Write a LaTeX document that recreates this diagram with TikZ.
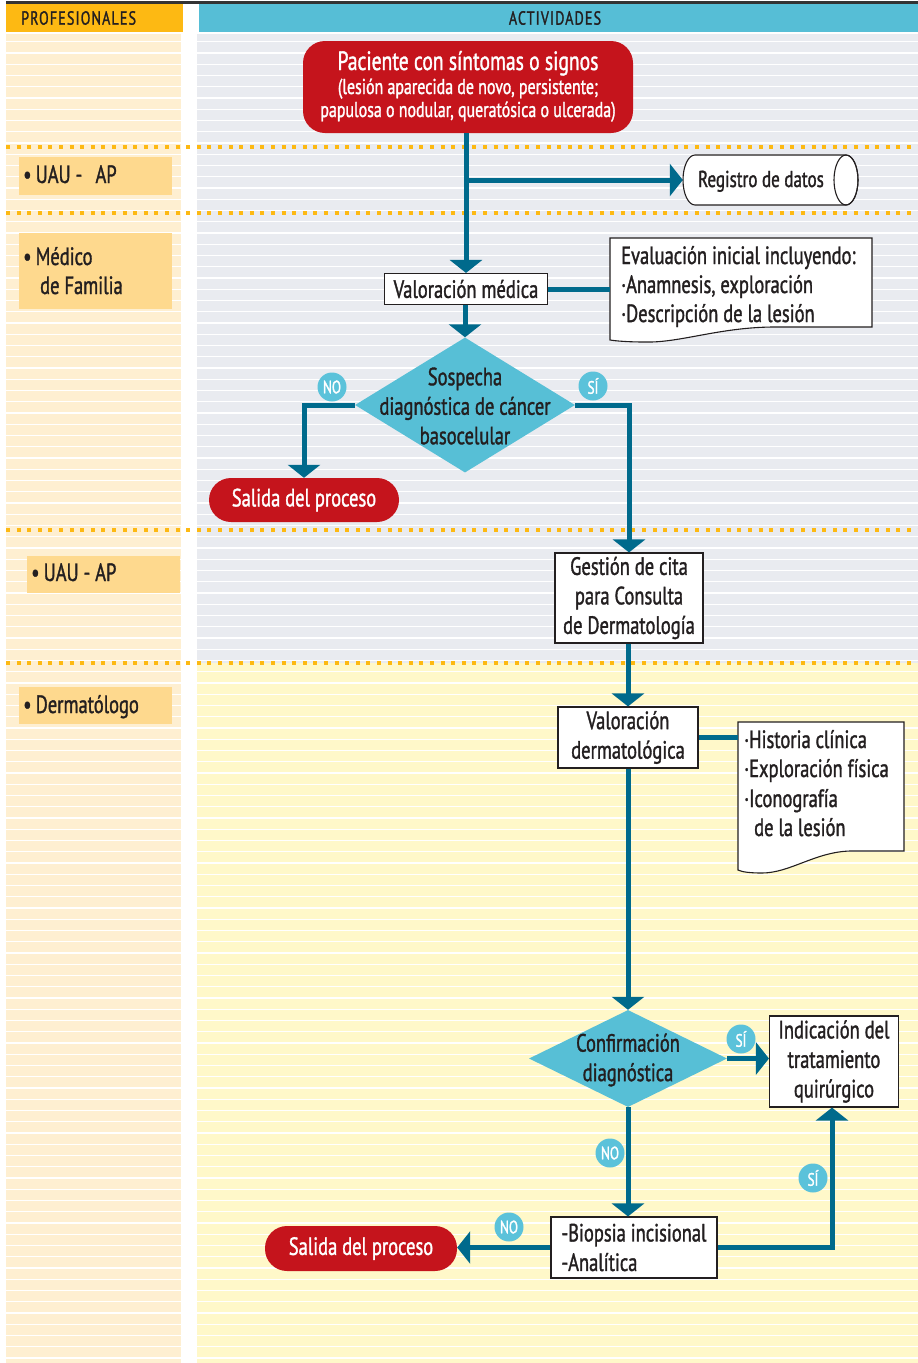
\documentclass[tikz,border=0pt]{standalone}
\usepackage{fontspec}
\setmainfont{PT Sans}[FakeStretch=0.74,FakeBold=1.3]
\usetikzlibrary{arrows.meta,shapes.geometric,calc}
\definecolor{txt}{HTML}{231F20}
\definecolor{linec}{HTML}{006A8C}
\definecolor{diac}{HTML}{57BFD6}
\definecolor{redc}{HTML}{C5141C}
\definecolor{orangeh}{HTML}{FDB913}
\definecolor{tealh}{HTML}{56BED6}
\definecolor{leftbg}{HTML}{FEEFD1}
\definecolor{labbg}{HTML}{FED98E}
\definecolor{graybg}{HTML}{E9EBF0}
\definecolor{yelbg}{HTML}{FFF8C9}
\definecolor{tagc}{HTML}{5BC2DA}
\begin{document}
\begin{tikzpicture}[x=1pt,y=-1pt,
  bodyf/.style={font=\fontsize{25pt}{29.5pt}\selectfont},
  box/.style={bodyf, draw=txt, line width=1.1pt, fill=white, align=center, inner sep=0pt, text=txt},
  term/.style={bodyf, fill=redc, text=white, rounded corners=22pt, inner sep=0pt, align=center},
  decision/.style={diamond, fill=diac, inner sep=0pt},
  dtext/.style={bodyf, text=txt, align=center},
  notebox/.style={draw=txt, line width=1.1pt, fill=white},
  flow/.style={draw=linec, line width=5pt},
  arr/.style={flow, -{Triangle[width=32pt,length=13pt]}},
  tag/.style={circle, fill=tagc, text=white, minimum size=29pt, inner sep=0pt, font=\fontsize{18pt}{18pt}\selectfont},
  lab/.style={bodyf, fill=labbg, text=txt, anchor=north west, inner sep=0pt, align=left},
  labt/.style={bodyf, text=txt, anchor=base west, inner sep=0pt},
  headf/.style={font=\fontsize{19pt}{19pt}\selectfont\addfontfeatures{LetterSpace=6}, text=txt},
  dots/.style={orangeh, line width=4pt, dash pattern=on 4pt off 6.6pt}
]
\useasboundingbox (0,0) rectangle (918,1363);
\fill[white] (0,0) rectangle (918,1363);
% backgrounds
\fill[leftbg] (6,34) rectangle (181,1363);
\fill[graybg] (197,34) rectangle (918,663);
\fill[yelbg] (197,663) rectangle (918,1363);
\foreach \k in {0,...,117} \draw[white, line width=1.3pt] (6,{41.7+11.25*\k}) -- (918,{41.7+11.25*\k});
\draw[black!80, line width=2.2pt] (6,2.5) -- (918,2.5);
% headers
\node[fill=orangeh, minimum width=177pt, minimum height=28pt, inner sep=0pt, anchor=north west] (hprof) at (6,4) {};
\node[headf, anchor=west, inner sep=0pt] (hproft) at (21,18) {PROFESIONALES};
\node[fill=tealh, minimum width=719pt, minimum height=28pt, inner sep=0pt, anchor=north west] (hact) at (199,4) {};
\node[headf, inner sep=0pt] (hactt) at (555,18) {ACTIVIDADES};
% dotted separators
\foreach \yy in {147,213,530,663} \draw[dots] (6,\yy) -- (918,\yy);
% professional labels
\node[lab, minimum width=153pt, minimum height=38pt] (l1) at (19,157) {};
\node[labt] (l1t) at (23,183) {•\,UAU -\,\, AP};
\node[lab, minimum width=153pt, minimum height=76pt] (l2) at (19,233) {};
\node[labt] (l2t) at (23,265) {•\,Médico};
\node[labt] (l2u) at (40,294) {de Familia};
\node[lab, minimum width=153pt, minimum height=37pt] (l3) at (27,556) {};
\node[labt] (l3t) at (31,581) {•\,UAU - AP};
\node[lab, minimum width=153pt, minimum height=37pt] (l4) at (19,687) {};
\node[labt] (l4t) at (23,713) {•\,Dermatólogo};
% start
\node[term, minimum width=330pt, minimum height=92pt] (start) at (468,87) {};
\node[text=white, inner sep=0pt, anchor=base] (startt) at (468,70) {\fontsize{26.5pt}{26.5pt}\selectfont Paciente con síntomas o signos};
\node[text=white, inner sep=0pt, anchor=base] (startu) at (468,94) {\fontsize{21.5pt}{23pt}\selectfont (lesión aparecida de novo, persistente;};
\node[text=white, inner sep=0pt, anchor=base] (startv) at (468,117) {\fontsize{21.5pt}{23pt}\selectfont papulosa o nodular, queratósica o ulcerada)};
% registro de datos (cylinder on its side)
\node[minimum width=175pt, minimum height=50pt, inner sep=0pt] (reg) at (770.5,180) {};
\draw[draw=txt, line width=1.1pt, fill=white] (695,155) -- (846,155) arc[start angle=-90, end angle=90, x radius=12, y radius=25] -- (695,205) arc[start angle=90, end angle=270, x radius=12, y radius=25] -- cycle;
\draw[draw=txt, line width=1.1pt] (846,180) ellipse[x radius=12, y radius=25];
\node[text=txt, anchor=base, inner sep=0pt] (regt) at (761,187) {\fontsize{23pt}{23pt}\selectfont Registro de datos};
% valoracion medica
\node[box, minimum width=163pt, minimum height=31pt] (valmed) at (466,289) {Valoración médica};
% note 1
\draw[notebox] (610,238) -- (872,238) -- (872,327) -- (775,327) .. controls (720,327) and (680,343) .. (645,342) .. controls (628,342) and (616,341) .. (610,340) -- cycle;
\node[minimum width=262pt, minimum height=89pt, inner sep=0pt, anchor=north west] (note1) at (610,238) {};
\node[labt] (n1a) at (621,264) {Evaluación inicial incluyendo:};
\node[labt] (n1b) at (621,293) {·Anamnesis, exploración};
\node[labt] (n1c) at (621,322) {·Descripción de la lesión};
% decision 1
\node[decision, minimum width=220pt, minimum height=135pt] (d1) at (465,405) {};
\node[dtext] (d1t) at (465,406) {Sospecha\\diagnóstica de cáncer\\basocelular};
% salida 1
\node[term, minimum width=190pt, minimum height=44pt] (sal1) at (304,500) {Salida del proceso};
% gestion
\node[box, minimum width=148pt, minimum height=90pt] (gest) at (629,598) {Gestión de cita\\para Consulta\\de Dermatología};
% valoracion dermatologica
\node[box, minimum width=140pt, minimum height=61pt] (valder) at (628,737.5) {Valoración\\dermatológica};
% note 2
\draw[notebox] (738,722) -- (904,722) -- (904,851) -- (850,851) .. controls (815,852) and (790,873) .. (762,873) .. controls (750,873) and (742,872) .. (738,870) -- cycle;
\node[minimum width=166pt, minimum height=129pt, inner sep=0pt, anchor=north west] (note2) at (738,722) {};
\node[labt] (n2a) at (744,748) {·Historia clínica};
\node[labt] (n2b) at (744,777) {·Exploración física};
\node[labt] (n2c) at (744,807) {·Iconografía};
\node[labt] (n2d) at (754,836) {de la lesión};
% decision 2
\node[decision, minimum width=198pt, minimum height=97pt] (d2) at (628,1058.5) {};
\node[dtext] (d2t) at (628,1060) {Confirmación\\diagnóstica};
% indicacion
\node[box, minimum width=129pt, minimum height=91pt] (indic) at (834,1061.5) {Indicación del\\tratamiento\\quirúrgico};
% biopsia
\node[box, minimum width=166pt, minimum height=61pt, align=left] (biop) at (634,1247.5) {-Biopsia incisional\\-Analítica};
% salida 2
\node[term, minimum width=192pt, minimum height=45pt] (sal2) at (361,1248.5) {Salida del proceso};
% connectors
\draw[flow] (start.south -| valmed.north) -- (valmed.north |- reg.west);
\draw[arr] (valmed.north |- reg.west) -- (reg.west);
\draw[arr] (valmed.north |- reg.west) -- (valmed.north);
\draw[flow] (valmed.east) -- (valmed.east -| note1.west);
\draw[arr] (valmed.south -| d1.north) -- (d1.north);
\draw[arr] (d1.west) -| (sal1.north);
\draw[arr] (d1.east) -| (gest.north);
\draw[arr] (gest.south -| valder.north) -- (valder.north);
\draw[flow] (valder.east) -- (valder.east -| note2.west);
\draw[arr] (valder.south -| d2.north) -- (d2.north);
\draw[arr] (d2.east) -- (d2.east -| indic.west);
\draw[arr] (d2.south) -- (d2.south |- biop.north);
\draw[arr] (biop.west) -- (biop.west -| sal2.east);
\draw[arr] (biop.east) -| ([xshift=-2pt]indic.south);
% tags
\node[tag] (t1) at (332,387) {NO};
\node[tag] (t2) at (593,386) {SÍ};
\node[tag] (t3) at (741,1039) {SÍ};
\node[tag] (t4) at (610,1153) {NO};
\node[tag] (t5) at (813,1178) {SÍ};
\node[tag] (t6) at (509,1227) {NO};
\end{tikzpicture}
\end{document}
